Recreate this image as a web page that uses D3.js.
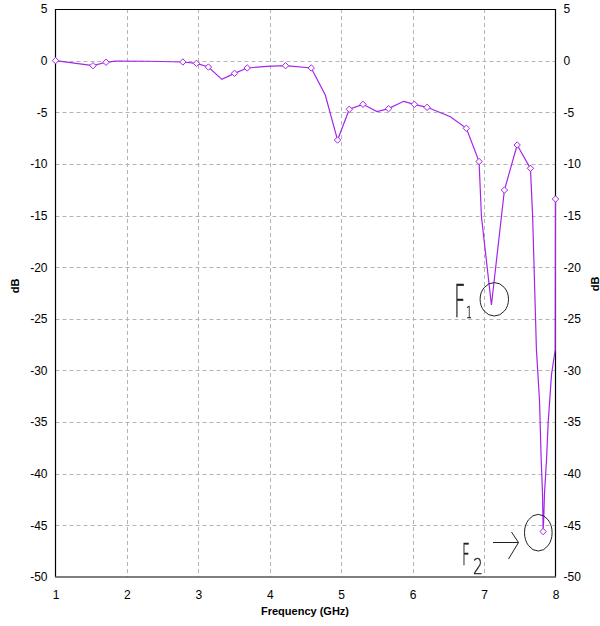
<!DOCTYPE html>
<html><head><meta charset="utf-8">
<script src="https://cdn.jsdelivr.net/npm/d3@7"></script>
<style>
html,body{margin:0;padding:0;background:#fff;}
svg{display:block;}
.tick text{font-family:"Liberation Sans",Arial,sans-serif;font-size:12px;fill:#000;}
</style></head>
<body>
<svg id="chart" width="600" height="626"></svg>
<script>
// ---- data ----
const xTicks = [1,2,3,4,5,6,7,8];
const yTicks = [5,0,-5,-10,-15,-20,-25,-30,-35,-40,-45,-50];
// polyline vertices of the trace (GHz, dB)
const lineFreq = [1.0,1.525,1.708,1.834,2.324,2.783,2.973,3.141,3.329,3.506,3.684,3.960,4.220,4.580,4.777,4.949,5.113,5.305,5.501,5.663,5.874,6.024,6.202,6.529,6.752,6.930,6.963,7.103,7.285,7.463,7.649,7.680,7.733,7.776,7.800,7.818,7.827,7.836,7.846,7.874,7.897,7.944,7.996,8.0];
const lineDb   = [0,-0.49,-0.16,-0.04,-0.06,-0.13,-0.26,-0.62,-1.81,-1.23,-0.71,-0.55,-0.49,-0.71,-3.33,-7.69,-4.71,-4.23,-4.94,-4.65,-3.94,-4.23,-4.52,-5.43,-6.55,-9.77,-15.1,-23.66,-12.53,-8.17,-10.43,-15.1,-28.0,-32.9,-38.7,-41.9,-45.6,-44.2,-41.9,-38.7,-35.1,-30.4,-28.0,-13.4];
// measured points (diamond markers)
const markerFreq = [1.0,1.525,1.708,2.783,2.973,3.141,3.506,3.684,4.220,4.580,4.949,5.113,5.305,5.663,6.024,6.202,6.752,6.930,7.285,7.463,7.649,7.827,8.0];
const markerDb   = [0,-0.49,-0.16,-0.13,-0.26,-0.62,-1.23,-0.71,-0.49,-0.71,-7.69,-4.71,-4.23,-4.65,-4.23,-4.52,-6.55,-9.77,-12.53,-8.17,-10.43,-45.6,-13.4];
const xLabel = "Frequency (GHz)";
const yLabel = "dB";

// ---- layout ----
const svg = d3.select("#chart");
const L = 55.5, R = 555.5, T = 9, B = 577;
const x = d3.scaleLinear().domain([1,8]).range([L,R]);
const y = d3.scaleLinear().domain([-50,5]).range([B,T]);
const lineColor = "#a524ec";

// grid
const grid = svg.append("g");
grid.selectAll("line.v").data(xTicks.slice(1,-1)).join("line")
  .attr("x1",d=>Math.round(x(d))+0.5).attr("x2",d=>Math.round(x(d))+0.5)
  .attr("y1",T).attr("y2",B)
  .attr("stroke","#b4b4b4").attr("stroke-dasharray","4,3");
grid.selectAll("line.h").data(yTicks.slice(1,-1)).join("line")
  .attr("x1",L).attr("x2",R)
  .attr("y1",d=>Math.round(y(d))+0.5).attr("y2",d=>Math.round(y(d))+0.5)
  .attr("stroke","#b4b4b4").attr("stroke-dasharray","4,3");

// frame
svg.append("path").attr("d",`M${L},${B}V${T+0.5}H${R}V${B}`)
  .attr("fill","none").attr("stroke","#000").attr("stroke-width",1.2);
svg.append("line").attr("x1",L-0.5).attr("x2",R+0.5).attr("y1",B).attr("y2",B)
  .attr("stroke","#555").attr("stroke-width",1.6);

// axes
const ax = svg.append("g").attr("transform",`translate(0,${B})`)
  .call(d3.axisBottom(x).tickValues(xTicks).tickSize(0).tickPadding(13).tickFormat(d3.format("d")));
const ayl = svg.append("g").attr("transform",`translate(${L},0)`)
  .call(d3.axisLeft(y).tickValues(yTicks).tickSize(0).tickPadding(8).tickFormat(d3.format("d")));
const ayr = svg.append("g").attr("transform",`translate(${R},0)`)
  .call(d3.axisRight(y).tickValues(yTicks).tickSize(0).tickPadding(8).tickFormat(d3.format("d")));
[ax,ayl,ayr].forEach(g=>{g.select(".domain").remove(); g.selectAll("text").style("font-family","'Liberation Sans',Arial,sans-serif").style("font-size","12px");});
ayl.selectAll("text").text(d=>String(d));
ayr.selectAll("text").text(d=>String(d));

// axis titles
svg.append("text").attr("x",305).attr("y",615).attr("text-anchor","middle")
  .style("font-family","'Liberation Sans',Arial,sans-serif").style("font-size","11px").style("font-weight","bold")
  .text(xLabel);
svg.append("text").attr("transform","translate(19,286) rotate(-90)").attr("text-anchor","middle")
  .style("font-family","'Liberation Sans',Arial,sans-serif").style("font-size","11px").style("font-weight","bold")
  .text(yLabel);
svg.append("text").attr("transform","translate(599,284) rotate(-90)").attr("text-anchor","middle")
  .style("font-family","'Liberation Sans',Arial,sans-serif").style("font-size","11px").style("font-weight","bold")
  .text(yLabel);

// trace
const pts = lineFreq.map((f,i)=>[f,lineDb[i]]);
svg.append("path").datum(pts)
  .attr("d",d3.line().x(d=>x(d[0])).y(d=>y(d[1])))
  .attr("fill","none").attr("stroke",lineColor).attr("stroke-width",1.2);
const mk = markerFreq.map((f,i)=>[f,markerDb[i]]);
svg.append("g").selectAll("path").data(mk).join("path")
  .attr("d",d=>{const cx=x(d[0]),cy=y(d[1]),s=3.2;return `M${cx},${cy-s}L${cx+s},${cy}L${cx},${cy+s}L${cx-s},${cy}Z`;})
  .attr("fill","#fff").attr("stroke",lineColor).attr("stroke-width",1);

// annotations F1 / F2
const ann = svg.append("g").attr("fill","#222").attr("stroke","#222").attr("stroke-width",0.4)
  .style("filter","grayscale(1)")
  .style("font-family","'DejaVu Sans',sans-serif").style("font-weight","200");
// F1
ann.append("text").attr("transform","translate(454,317) scale(0.45,1)").style("font-size","44px").text("F");
ann.append("text").attr("transform","translate(466,318) scale(0.6,1)").style("font-size","16px").text("1");
svg.append("ellipse").attr("cx",494.3).attr("cy",299.3).attr("rx",14.2).attr("ry",16.7)
  .attr("fill","none").attr("stroke","#222").attr("stroke-width",1);
// F2
ann.append("text").attr("transform","translate(462,565) scale(0.45,1)").style("font-size","30px").text("F");
ann.append("text").attr("transform","translate(473,574) scale(0.7,1)").style("font-size","22px").text("2");
svg.append("ellipse").attr("cx",538.3).attr("cy",532.7).attr("rx",13.8).attr("ry",18.3)
  .attr("fill","none").attr("stroke","#222").attr("stroke-width",1);
svg.append("path").attr("d","M493,542.5H518.5M511.5,532L518.5,542.5L508.5,559")
  .attr("fill","none").attr("stroke","#222").attr("stroke-width",1);
</script>
</body></html>
